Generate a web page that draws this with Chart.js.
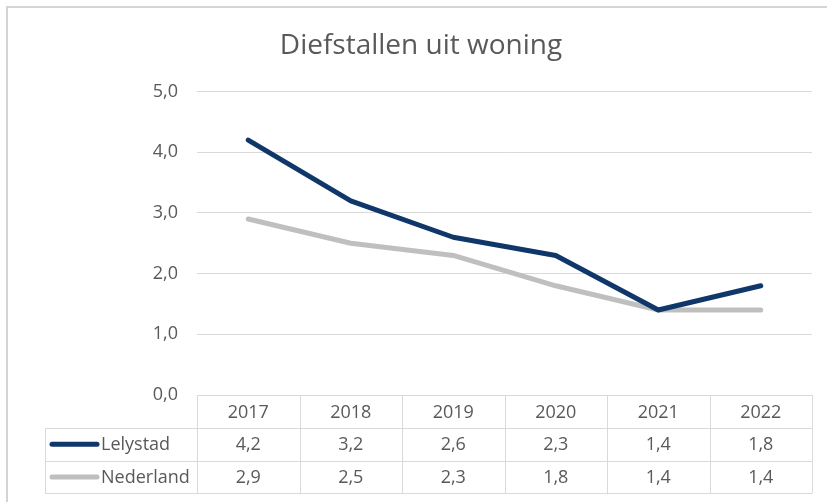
<!DOCTYPE html>
<html>
<head>
<meta charset="utf-8">
<script src="https://cdn.jsdelivr.net/npm/chart.js@4/dist/chart.umd.min.js"></script>
<style>
  html, body { margin: 0; padding: 0; background: #ffffff; }
  #wrap { width: 827px; height: 502px; position: relative; }
</style>
</head>
<body>
<div id="wrap"><canvas id="c" width="827" height="502"></canvas></div>
<script>
const categories = ['2017', '2018', '2019', '2020', '2021', '2022'];
const lelystad = [4.2, 3.2, 2.6, 2.3, 1.4, 1.8];
const nederland = [2.9, 2.5, 2.3, 1.8, 1.4, 1.4];
const seriesNames = ['Lelystad', 'Nederland'];
const titleText = 'Diefstallen uit woning';

const TEXT = '#595959';
const GRID = '#d9d9d9';
const BLUE = '#10376a';
const GRAY = '#bfbfbf';
const FONT = "'Open Sans', sans-serif";

const fmt = v => Number(v).toFixed(1).replace('.', ',');

const tablePlugin = {
  id: 'dataTable',
  beforeDraw(chart) {
    const ctx = chart.ctx;
    ctx.save();
    ctx.strokeStyle = '#d4d4d4';
    ctx.lineWidth = 2;
    ctx.strokeRect(7, 7, 1000, 1000);
    ctx.restore();
  },
  afterDraw(chart) {
    const ctx = chart.ctx;
    const xs = chart.scales.x;
    const area = chart.chartArea;
    const half = (xs.getPixelForValue(1) - xs.getPixelForValue(0)) / 2;
    const rowH = 32.8;
    const top = area.bottom;
    const labelLeft = 45;
    const right = area.right;
    const datasets = chart.data.datasets;
    const nRows = datasets.length + 1;
    ctx.save();
    ctx.strokeStyle = GRID;
    ctx.lineWidth = 1;
    for (let r = 1; r <= nRows; r++) {
      const y = Math.round(top + r * rowH) + 0.5;
      ctx.beginPath();
      ctx.moveTo(labelLeft, y);
      ctx.lineTo(right, y);
      ctx.stroke();
    }
    const bottom = Math.round(top + nRows * rowH) + 0.5;
    for (let i = 0; i <= categories.length; i++) {
      const x = Math.round(xs.getPixelForValue(i) - half) + 0.5;
      const xx = i === categories.length ? Math.round(right) + 0.5 : x;
      ctx.beginPath();
      ctx.moveTo(xx, top);
      ctx.lineTo(xx, bottom);
      ctx.stroke();
    }
    ctx.beginPath();
    ctx.moveTo(labelLeft + 0.5, Math.round(top + rowH) + 0.5);
    ctx.lineTo(labelLeft + 0.5, bottom);
    ctx.stroke();

    ctx.fillStyle = TEXT;
    ctx.font = '18px ' + FONT;
    ctx.textAlign = 'center';
    ctx.textBaseline = 'middle';
    categories.forEach((c, i) => {
      ctx.fillText(c, xs.getPixelForValue(i), top + rowH / 2 + 1);
    });
    datasets.forEach((ds, r) => {
      const yc = top + (r + 1) * rowH + rowH / 2 + 1;
      ds.data.forEach((v, i) => {
        ctx.textAlign = 'center';
        ctx.fillText(fmt(v), xs.getPixelForValue(i), yc);
      });
      ctx.save();
      ctx.strokeStyle = ds.borderColor;
      ctx.lineWidth = 5;
      ctx.lineCap = 'round';
      ctx.beginPath();
      ctx.moveTo(52, yc - 1);
      ctx.lineTo(97, yc - 1);
      ctx.stroke();
      ctx.restore();
      ctx.textAlign = 'left';
      ctx.fillText(ds.label, 101, yc);
    });
    ctx.restore();
  }
};

new Chart(document.getElementById('c'), {
  type: 'line',
  data: {
    labels: categories,
    datasets: [
      { label: seriesNames[0], data: lelystad, borderColor: BLUE, backgroundColor: BLUE,
        borderWidth: 5, pointRadius: 0, tension: 0, borderCapStyle: 'round', borderJoinStyle: 'round' },
      { label: seriesNames[1], data: nederland, borderColor: GRAY, backgroundColor: GRAY,
        borderWidth: 5, pointRadius: 0, tension: 0, borderCapStyle: 'round', borderJoinStyle: 'round' }
    ]
  },
  options: {
    responsive: false,
    animation: false,
    layout: { padding: { left: 30, right: 15, top: 0, bottom: 107 } },
    plugins: {
      legend: { display: false },
      tooltip: { enabled: false },
      title: {
        display: true,
        text: titleText,
        color: TEXT,
        font: { family: FONT, size: 28, weight: 'normal' },
        padding: { top: 29, bottom: 29 }
      }
    },
    scales: {
      x: { display: false, offset: true },
      y: {
        min: 0, max: 5,
        ticks: { stepSize: 1, color: TEXT, font: { family: FONT, size: 18 }, padding: 19,
                 callback: v => fmt(v) },
        grid: { color: GRID, lineWidth: 1, drawTicks: false },
        border: { display: false },
        afterFit(scale) { scale.width = 167; }
      }
    }
  },
  plugins: [tablePlugin]
});
</script>
</body>
</html>
